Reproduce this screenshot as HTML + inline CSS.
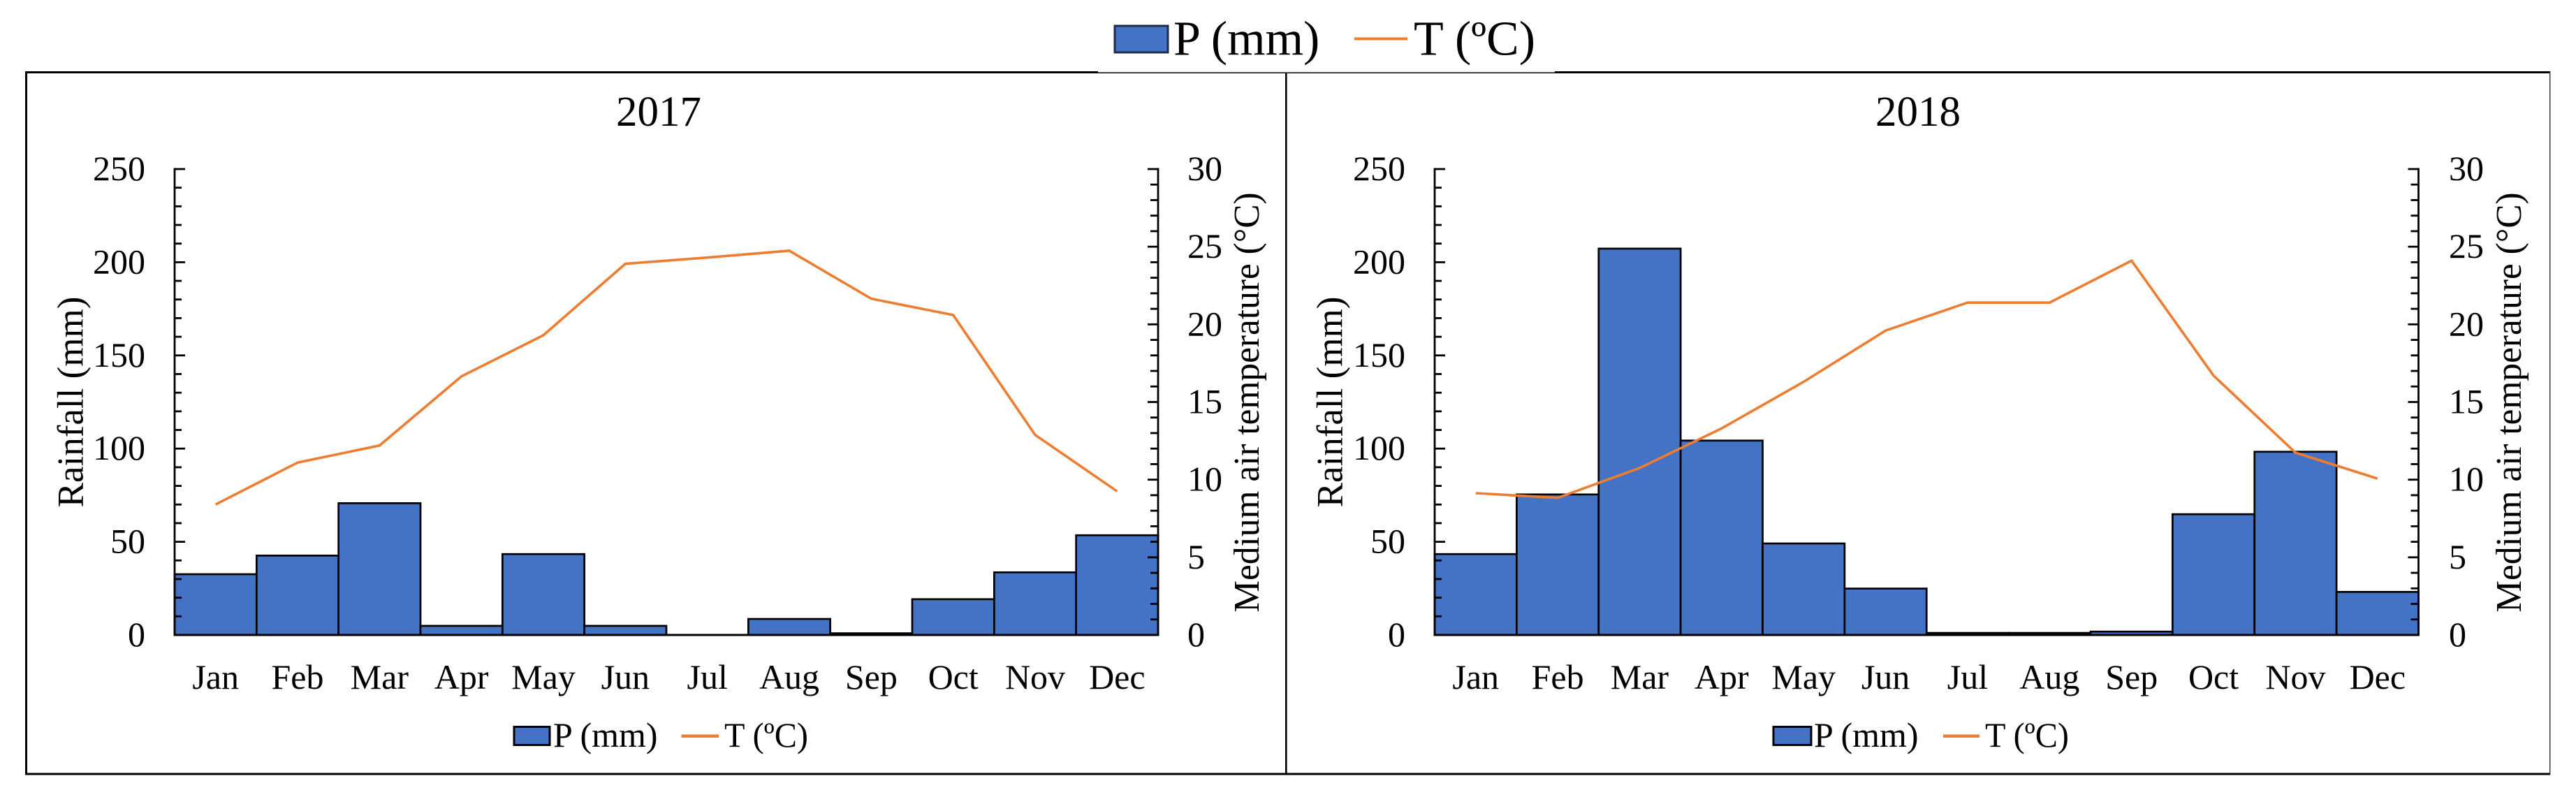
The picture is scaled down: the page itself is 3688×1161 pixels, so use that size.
<!DOCTYPE html>
<html lang="en">
<head>
<meta charset="utf-8">
<title>Rainfall and temperature 2017 and 2018</title>
<style>
html,body{margin:0;padding:0;background:#fff;}
svg{display:block;}
text{font-family:"Liberation Serif","Times New Roman",serif;fill:#000;}
</style>
</head>
<body>
<svg id="chart" xmlns="http://www.w3.org/2000/svg" width="3688" height="1161" viewBox="0 0 3688 1161">
  <rect x="0" y="0" width="3688" height="1161" fill="#fff"/>
  <g id="panels"></g>

  <rect x="36" y="102" width="3615" height="3" fill="#000"/>
  <rect x="36" y="1106.5" width="3615" height="3" fill="#000"/>
  <rect x="36" y="102" width="3" height="1007" fill="#000"/>
  <rect x="1840" y="102" width="2.6" height="1007" fill="#000"/>
  <rect x="3650" y="102" width="1.4" height="1007" fill="#333"/>

  <g>
    <rect x="1572" y="0" width="654" height="104" fill="#fff"/>
    <rect x="1572" y="103.5" width="654" height="1.2" fill="#000"/>
    <rect x="1596" y="37" width="76" height="38" fill="#4472C4" stroke="#1f2b4a" stroke-width="3"/>
    <text x="1680" y="78.5" font-size="70">P (mm)</text>
    <line x1="1939" x2="2015" y1="55.5" y2="55.5" stroke="#ED7D31" stroke-width="4"/>
    <text x="2024" y="78.5" font-size="70">T (ºC)</text>
  </g>
</svg>
<script>
// Chart data
var months = ["Jan","Feb","Mar","Apr","May","Jun","Jul","Aug","Sep","Oct","Nov","Dec"];
var rainTicks = [0,50,100,150,200,250];
var tempTicks = [0,5,10,15,20,25,30];
var rain2017 = [32.6,42.6,70.7,4.9,43.4,4.9,0,8.6,0.9,19.2,33.6,53.5];
var temp2017 = [8.4,11.1,12.2,16.65,19.3,23.9,24.3,24.74,21.65,20.6,12.88,9.25];
var rain2018 = [43.4,75.4,207.3,104.3,49.1,24.9,1.1,1.1,1.8,64.8,98.3,23.1];
var temp2018 = [9.13,8.83,10.75,13.3,16.3,19.6,21.4,21.4,24.1,16.7,11.74,10.07];

var SVGNS = "http://www.w3.org/2000/svg";
var AXIS_TOP = 242, AXIS_BOTTOM = 909;
var RAIN_MAX = 250, TEMP_MAX = 30;

function yRain(v){ return AXIS_BOTTOM - (v / RAIN_MAX) * (AXIS_BOTTOM - AXIS_TOP); }
function yTemp(v){ return AXIS_BOTTOM - (v / TEMP_MAX) * (AXIS_BOTTOM - AXIS_TOP); }

function mk(parent, tag, attrs, txt){
  var el = document.createElementNS(SVGNS, tag);
  for (var k in attrs) el.setAttribute(k, attrs[k]);
  if (txt !== undefined) el.textContent = txt;
  parent.appendChild(el);
  return el;
}

function drawPanel(root, p){
  var g = mk(root, "g", {});
  
  

  var step = (p.x1 - p.x0) / months.length;
  function xBand(i){ return p.x0 + i * step; }

  var title = mk(g, "text", {x:p.titleX, y:180, "font-size":61, "text-anchor":"middle"}, String(p.year));
  
  

  // Bars
  p.rain.forEach(function(v, i){
    var y = yRain(v);
    var bar = mk(g, "rect", {x:xBand(i), y:y, width:step, height:AXIS_BOTTOM - y, fill:"#4472C4", stroke:"#000", "stroke-width":2.7});
    
    
  });

  // Left axis
  var la = mk(g, "line", {x1:p.x0, x2:p.x0, y1:AXIS_TOP - 1.5, y2:AXIS_BOTTOM + 1.5, stroke:"#000", "stroke-width":2.8});
  
  
  for (var r = 0; r <= RAIN_MAX; r += 10){
    var major = r % 50 === 0;
    var lt = mk(g, "line", {x1:p.x0, x2:p.x0 + (major ? 15 : 10), y1:yRain(r), y2:yRain(r), stroke:"#000", "stroke-width":2.8});
    
    
  }
  rainTicks.forEach(function(t){
    var lbl = mk(g, "text", {x:p.leftLabelX, y:yRain(t) + 16, "font-size":50, "text-anchor":"end"}, String(t));
    
    
  });

  // Right axis
  var ra = mk(g, "line", {x1:p.x1, x2:p.x1, y1:AXIS_TOP - 1.5, y2:AXIS_BOTTOM + 1.5, stroke:"#000", "stroke-width":2.8});
  
  
  for (var c = 0; c <= TEMP_MAX; c += 1){
    var maj = c % 5 === 0;
    var rt = mk(g, "line", {x1:p.x1, x2:p.x1 - (maj ? 15 : 11), y1:yTemp(c), y2:yTemp(c), stroke:"#000", "stroke-width":2.8});
    
    
  }
  tempTicks.forEach(function(t){
    var lbl = mk(g, "text", {x:p.rightLabelX, y:yTemp(t) + 16, "font-size":50}, String(t));
    
    
  });

  // X axis
  var xa = mk(g, "line", {x1:p.x0 - 1.4, x2:p.x1 + 1.4, y1:AXIS_BOTTOM, y2:AXIS_BOTTOM, stroke:"#000", "stroke-width":3});
  
  
  months.forEach(function(m, i){
    var lbl = mk(g, "text", {x:xBand(i) + step / 2, y:986, "font-size":50, "text-anchor":"middle"}, m);
    
    
  });

  // Temperature line
  var pts = p.temp.map(function(v, i){ return (xBand(i) + step / 2).toFixed(1) + "," + yTemp(v).toFixed(1); }).join(" ");
  var line = mk(g, "polyline", {points:pts, fill:"none", stroke:"#ED7D31", "stroke-width":3.6, "stroke-linejoin":"miter"});
  
  

  // Axis titles
  var yt = mk(g, "text", {transform:"translate(" + p.leftTitleX + ",575.5) rotate(-90)", "font-size":53, "text-anchor":"middle"}, "Rainfall (mm)");
  
  
  var yr = mk(g, "text", {transform:"translate(" + p.rightTitleX + ",576) rotate(-90)", "font-size":51.4, "text-anchor":"middle"}, "Medium air temperature (°C)");
  
  

  // Panel legend
  var sw = mk(g, "rect", {x:p.legend[0], y:1040.5, width:p.legend[1] - p.legend[0], height:26, fill:"#4472C4", stroke:"#000", "stroke-width":3});
  
  
  var lp = mk(g, "text", {x:p.legend[2], y:1069, "font-size":50}, "P (mm)");
  
  
  var ll = mk(g, "line", {x1:p.legend[3], x2:p.legend[4], y1:1053.7, y2:1053.7, stroke:"#ED7D31", "stroke-width":4.5});
  
  
  var lt2 = mk(g, "text", {x:p.legend[5], y:1069, "font-size":50, textLength:120, lengthAdjust:"spacingAndGlyphs"}, "T (ºC)");
  
  
}

var panels = document.getElementById("panels");
drawPanel(panels, {year:2017, rain:rain2017, temp:temp2017, x0:250, x1:1658, titleX:943,
  leftLabelX:208, rightLabelX:1700, leftTitleX:118.5, rightTitleX:1802,
  legend:[736,787,792,975.5,1029,1037]});
drawPanel(panels, {year:2018, rain:rain2018, temp:temp2018, x0:2054, x1:3462.5, titleX:2746,
  leftLabelX:2012, rightLabelX:3506, leftTitleX:1921.5, rightTitleX:3609,
  legend:[2539,2593,2597,2782,2834,2842]});
</script>
</body>
</html>
